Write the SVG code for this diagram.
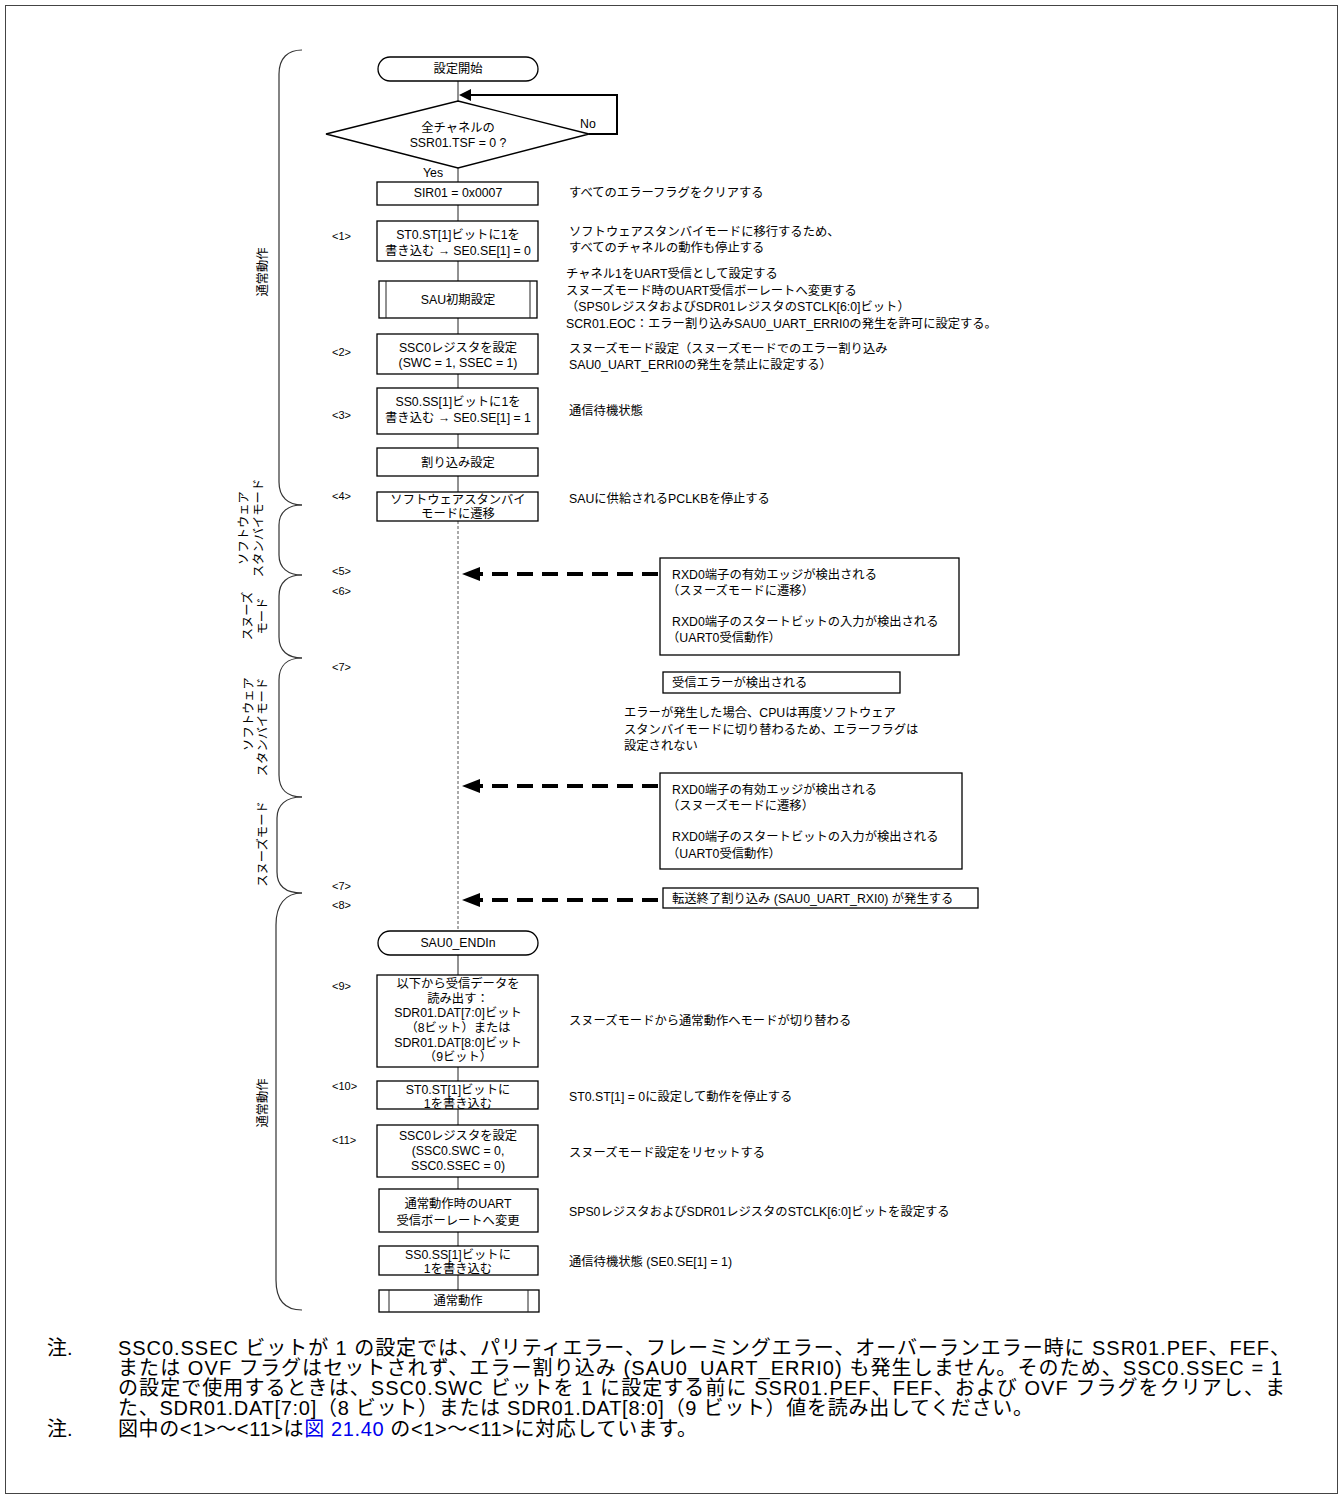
<svg xmlns="http://www.w3.org/2000/svg" width="1343" height="1499" viewBox="0 0 1343 1499">
<style>
text{font-family:"Liberation Sans","Noto Sans CJK JP",sans-serif;fill:#000;dominant-baseline:central}
.t{font-size:12.3px}
.c{text-anchor:middle}
.lbl{font-size:11px}
.note{font-size:20px}
.box{fill:#fff;stroke:#000;stroke-width:1.3}
.cn{stroke:#222;stroke-width:1;fill:none}
.brace{stroke:#333;stroke-width:1.2;fill:none}
.dash{stroke:#000;stroke-width:4;stroke-dasharray:16 9;fill:none;marker-end:url(#ah)}
</style>
<defs>
<marker id="ah" markerUnits="userSpaceOnUse" markerWidth="20" markerHeight="16" refX="8" refY="7" orient="auto">
<path d="M0,0 L18,7 L0,14 z" fill="#000"/>
</marker>
</defs>
<rect x="5.5" y="5.5" width="1332" height="1488" fill="#fff" stroke="#444" stroke-width="1"/>

<g id="braces">
<path class="brace" d="M302,50 C288,50 279,58 279,74 L279,482 C279,497 288,505 302,505"/>
<path class="brace" d="M302,505 C288,505 279,512 279,525 L279,555 C279,568 288,575 302,575"/>
<path class="brace" d="M302,575 C288,575 279,582 279,596 L279,637 C279,651 288,658 302,658"/>
<path class="brace" d="M302,658 C288,658 279,665 279,680 L279,775 C279,790 288,797 302,797"/>
<path class="brace" d="M302,797 C286,797 277,805 277,818 L277,872 C277,886 286,893 302,893"/>
<path class="brace" d="M302,893 C285,893 276,905 276,925 L276,1280 C276,1300 285,1310 302,1310"/>
<text class="t c" transform="translate(263,272) rotate(-90)">通常動作</text>
<text class="t c" transform="translate(244,528) rotate(-90)">ソフトウェア</text>
<text class="t c" transform="translate(259,528) rotate(-90)">スタンバイモード</text>
<text class="t c" transform="translate(248,616) rotate(-90)">スヌーズ</text>
<text class="t c" transform="translate(263,616) rotate(-90)">モード</text>
<text class="t c" transform="translate(249,714) rotate(-90)">ソフトウェア</text>
<text class="t c" transform="translate(263,727) rotate(-90)">スタンバイモード</text>
<text class="t c" transform="translate(263,844) rotate(-90)">スヌーズモード</text>
<text class="t c" transform="translate(263,1103) rotate(-90)">通常動作</text>
</g>

<g id="connectors">
<line class="cn" x1="458" y1="81" x2="458" y2="101"/>
<line class="cn" x1="458" y1="168" x2="458" y2="182"/>
<line class="cn" x1="458" y1="205" x2="458" y2="221"/>
<line class="cn" x1="458" y1="261" x2="458" y2="281"/>
<line class="cn" x1="458" y1="318" x2="458" y2="334"/>
<line class="cn" x1="458" y1="374" x2="458" y2="388"/>
<line class="cn" x1="458" y1="434" x2="458" y2="448"/>
<line class="cn" x1="458" y1="476" x2="458" y2="492"/>
<line x1="458" y1="521" x2="458" y2="931" stroke="#555" stroke-width="1" stroke-dasharray="3 2"/>
<line class="cn" x1="458" y1="955" x2="458" y2="975"/>
<line class="cn" x1="458" y1="1067" x2="458" y2="1081"/>
<line class="cn" x1="458" y1="1109" x2="458" y2="1125"/>
<line class="cn" x1="458" y1="1177" x2="458" y2="1189"/>
<line class="cn" x1="458" y1="1232" x2="458" y2="1246"/>
<line class="cn" x1="458" y1="1275" x2="458" y2="1290"/>
<polyline points="589,134 617,134 617,95 468,95" fill="none" stroke="#000" stroke-width="2"/>
<path d="M459,95 L471,89 L471,101 z" fill="#000"/>
<text class="t" x="580" y="124">No</text>
<text class="t" x="423" y="173">Yes</text>
<line class="dash" x1="658" y1="574" x2="472" y2="574"/>
<line class="dash" x1="658" y1="786" x2="472" y2="786"/>
<line class="dash" x1="658" y1="900" x2="472" y2="900"/>
</g>

<g id="n-start"><rect class="box" x="378" y="57" width="160" height="24" rx="12"/><text class="t c" x="458" y="69">設定開始</text></g>
<g id="n-decision"><polygon class="box" points="458,101 589,134 458,168 326,134"/><text class="t c" x="458" y="128">全チャネルの</text><text class="t c" x="458" y="143">SSR01.TSF = 0 ?</text></g>
<g id="n-sir"><rect class="box" x="377" y="182" width="161" height="23"/><text class="t c" x="458" y="193">SIR01 = 0x0007</text></g>
<g id="n-st0"><rect class="box" x="377" y="221" width="161" height="40"/><text class="t c" x="458" y="235">ST0.ST[1]ビットに1を</text><text class="t c" x="458" y="251">書き込む → SE0.SE[1] = 0</text></g>
<g id="n-sau"><rect class="box" x="379" y="281" width="158" height="37"/><line class="cn" x1="386" y1="281" x2="386" y2="318"/><line class="cn" x1="530" y1="281" x2="530" y2="318"/><text class="t c" x="458" y="300">SAU初期設定</text></g>
<g id="n-ssc0"><rect class="box" x="377" y="334" width="161" height="40"/><text class="t c" x="458" y="348">SSC0レジスタを設定</text><text class="t c" x="458" y="363">(SWC = 1, SSEC = 1)</text></g>
<g id="n-ss0"><rect class="box" x="377" y="388" width="161" height="46"/><text class="t c" x="458" y="402">SS0.SS[1]ビットに1を</text><text class="t c" x="458" y="418">書き込む → SE0.SE[1] = 1</text></g>
<g id="n-int"><rect class="box" x="377" y="448" width="161" height="28"/><text class="t c" x="458" y="463">割り込み設定</text></g>
<g id="n-stby"><rect class="box" x="377" y="492" width="161" height="29"/><text class="t c" x="458" y="500">ソフトウェアスタンバイ</text><text class="t c" x="458" y="514">モードに遷移</text></g>
<g id="n-rxd1"><rect class="box" x="660" y="558" width="299" height="97"/><text class="t" x="672" y="575">RXD0端子の有効エッジが検出される</text><text class="t" x="667" y="591">（スヌーズモードに遷移）</text><text class="t" x="672" y="622">RXD0端子のスタートビットの入力が検出される</text><text class="t" x="667" y="638">（UART0受信動作）</text></g>
<g id="n-err"><rect class="box" x="663" y="672" width="237" height="21"/><text class="t" x="672" y="683">受信エラーが検出される</text></g>
<g id="n-rxd2"><rect class="box" x="660" y="773" width="302" height="96"/><text class="t" x="672" y="790">RXD0端子の有効エッジが検出される</text><text class="t" x="667" y="806">（スヌーズモードに遷移）</text><text class="t" x="672" y="837">RXD0端子のスタートビットの入力が検出される</text><text class="t" x="667" y="854">（UART0受信動作）</text></g>
<g id="n-rxi"><rect class="box" x="663" y="888" width="315" height="20"/><text class="t" x="672" y="899">転送終了割り込み (SAU0_UART_RXI0) が発生する</text></g>
<g id="n-endi"><rect class="box" x="378" y="931" width="160" height="24" rx="12"/><text class="t c" x="458" y="943">SAU0_ENDIn</text></g>
<g id="n-read"><rect class="box" x="377" y="975" width="161" height="92"/><text class="t c" x="458" y="984">以下から受信データを</text><text class="t c" x="458" y="999">読み出す：</text><text class="t c" x="458" y="1013">SDR01.DAT[7:0]ビット</text><text class="t c" x="458" y="1028">（8ビット）または</text><text class="t c" x="458" y="1043">SDR01.DAT[8:0]ビット</text><text class="t c" x="458" y="1057">（9ビット）</text></g>
<g id="n-st0b"><rect class="box" x="377" y="1081" width="161" height="28"/><text class="t c" x="458" y="1090">ST0.ST[1]ビットに</text><text class="t c" x="458" y="1104">1を書き込む</text></g>
<g id="n-ssc0b"><rect class="box" x="377" y="1125" width="161" height="52"/><text class="t c" x="458" y="1136">SSC0レジスタを設定</text><text class="t c" x="458" y="1151">(SSC0.SWC = 0,</text><text class="t c" x="458" y="1166">SSC0.SSEC = 0)</text></g>
<g id="n-baud"><rect class="box" x="379" y="1189" width="159" height="43"/><text class="t c" x="458" y="1204">通常動作時のUART</text><text class="t c" x="458" y="1221">受信ボーレートへ変更</text></g>
<g id="n-ss0b"><rect class="box" x="379" y="1246" width="159" height="29"/><text class="t c" x="458" y="1255">SS0.SS[1]ビットに</text><text class="t c" x="458" y="1269">1を書き込む</text></g>
<g id="n-normal"><rect class="box" x="379" y="1290" width="160" height="22"/><line class="cn" x1="389" y1="1290" x2="389" y2="1312"/><line class="cn" x1="528" y1="1290" x2="528" y2="1312"/><text class="t c" x="458" y="1301">通常動作</text></g>

<g id="step-labels">
<text class="lbl" x="332" y="236">&lt;1&gt;</text>
<text class="lbl" x="332" y="352">&lt;2&gt;</text>
<text class="lbl" x="332" y="415">&lt;3&gt;</text>
<text class="lbl" x="332" y="496">&lt;4&gt;</text>
<text class="lbl" x="332" y="571">&lt;5&gt;</text>
<text class="lbl" x="332" y="591">&lt;6&gt;</text>
<text class="lbl" x="332" y="667">&lt;7&gt;</text>
<text class="lbl" x="332" y="886">&lt;7&gt;</text>
<text class="lbl" x="332" y="905">&lt;8&gt;</text>
<text class="lbl" x="332" y="986">&lt;9&gt;</text>
<text class="lbl" x="332" y="1086">&lt;10&gt;</text>
<text class="lbl" x="332" y="1140">&lt;11&gt;</text>
</g>

<g id="annotations">
<text class="t" x="569" y="193">すべてのエラーフラグをクリアする</text>
<text class="t" x="569" y="232">ソフトウェアスタンバイモードに移行するため、</text>
<text class="t" x="569" y="248">すべてのチャネルの動作も停止する</text>
<text class="t" x="566" y="274">チャネル1をUART受信として設定する</text>
<text class="t" x="566" y="291">スヌーズモード時のUART受信ボーレートへ変更する</text>
<text class="t" x="566" y="307">（SPS0レジスタおよびSDR01レジスタのSTCLK[6:0]ビット）</text>
<text class="t" x="566" y="324">SCR01.EOC：エラー割り込みSAU0_UART_ERRI0の発生を許可に設定する。</text>
<text class="t" x="569" y="349">スヌーズモード設定（スヌーズモードでのエラー割り込み</text>
<text class="t" x="569" y="365">SAU0_UART_ERRI0の発生を禁止に設定する）</text>
<text class="t" x="569" y="411">通信待機状態</text>
<text class="t" x="569" y="499">SAUに供給されるPCLKBを停止する</text>
<text class="t" x="624" y="713">エラーが発生した場合、CPUは再度ソフトウェア</text>
<text class="t" x="624" y="730">スタンバイモードに切り替わるため、エラーフラグは</text>
<text class="t" x="624" y="746">設定されない</text>
<text class="t" x="569" y="1021">スヌーズモードから通常動作へモードが切り替わる</text>
<text class="t" x="569" y="1097">ST0.ST[1] = 0に設定して動作を停止する</text>
<text class="t" x="569" y="1153">スヌーズモード設定をリセットする</text>
<text class="t" x="569" y="1212">SPS0レジスタおよびSDR01レジスタのSTCLK[6:0]ビットを設定する</text>
<text class="t" x="569" y="1262">通信待機状態 (SE0.SE[1] = 1)</text>
</g>

<g id="notes">
<text class="note" x="47" y="1348">注.</text>
<text class="note" x="118" y="1348" textLength="1172" lengthAdjust="spacing">SSC0.SSEC ビットが 1 の設定では、パリティエラー、フレーミングエラー、オーバーランエラー時に SSR01.PEF、FEF、</text>
<text class="note" x="118" y="1368" textLength="1164" lengthAdjust="spacing">または OVF フラグはセットされず、エラー割り込み (SAU0_UART_ERRI0) も発生しません。そのため、SSC0.SSEC = 1</text>
<text class="note" x="118" y="1388" textLength="1167" lengthAdjust="spacing">の設定で使用するときは、SSC0.SWC ビットを 1 に設定する前に SSR01.PEF、FEF、および OVF フラグをクリアし、ま</text>
<text class="note" x="118" y="1408" textLength="915" lengthAdjust="spacing">た、SDR01.DAT[7:0]（8 ビット）または SDR01.DAT[8:0]（9 ビット）値を読み出してください。</text>
<text class="note" x="47" y="1429">注.</text>
<text class="note" x="118" y="1429" textLength="579" lengthAdjust="spacing">図中の&lt;1&gt;～&lt;11&gt;は<tspan fill="#0000ee">図 21.40</tspan> の&lt;1&gt;～&lt;11&gt;に対応しています。</text>
</g>
</svg>
